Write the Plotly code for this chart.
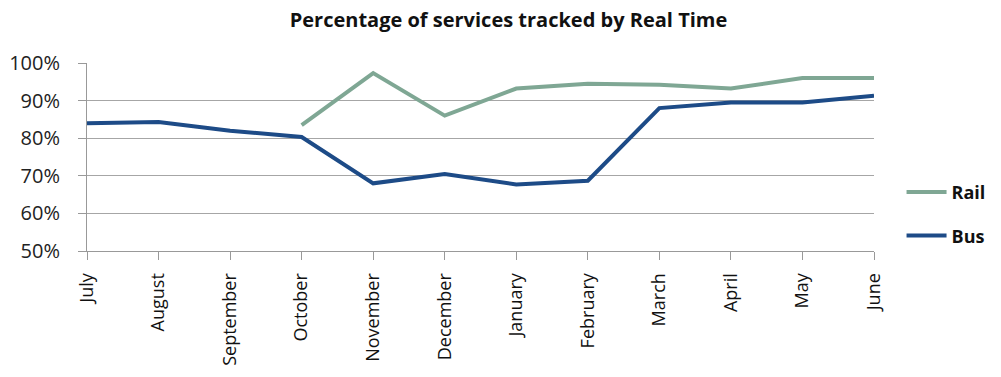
import plotly.graph_objects as go

months = ["July", "August", "September", "October", "November", "December",
          "January", "February", "March", "April", "May", "June"]
rail = [None, None, None, 83.5, 97.3, 86.0, 93.2, 94.5, 94.2, 93.2, 96.0, 96.0]
bus = [84.0, 84.3, 82.0, 80.3, 68.0, 70.5, 67.7, 68.7, 88.0, 89.5, 89.5, 91.3]
y_ticks = [50, 60, 70, 80, 90, 100]
y_labels = [f"{v}%" for v in y_ticks]

FONT = "Open Sans"

fig = go.Figure()
fig.add_trace(go.Scatter(x=months, y=rail, mode="lines", name="Rail",
                         line=dict(color="#7FA794", width=4), legendgroup="rail",
                         cliponaxis=False))
fig.add_trace(go.Scatter(x=months, y=bus, mode="lines", name="Bus",
                         line=dict(color="#1D4B87", width=4), legendgroup="bus",
                         cliponaxis=False))

fig.update_layout(
    width=1001, height=377,
    margin=dict(l=87, r=127, t=63, b=126, autoexpand=False),
    paper_bgcolor="white", plot_bgcolor="white",
    title=dict(text="<b>Percentage of services tracked by Real Time</b>",
               x=0.508, xanchor="center", y=0.947, yanchor="middle",
               font=dict(family=FONT, size=20, color="#111111")),
    font=dict(family=FONT, color="#222222"),
    showlegend=True,
    legend=dict(x=1.035, xanchor="left", y=0.41, yanchor="top",
                font=dict(family=FONT, size=18, color="#111111", weight="bold"),
                tracegroupgap=17, itemwidth=40, bgcolor="rgba(0,0,0,0)"),
)
fig.update_xaxes(type="category", range=[0, 11], showgrid=False,
                 showline=True, linecolor="#999999", linewidth=1,
                 ticks="outside", ticklen=8, tickcolor="#999999",
                 ticklabelstandoff=6, automargin=False,
                 tickangle=-90, tickfont=dict(family=FONT, size=18, color="#111111"))
fig.update_yaxes(range=[50, 100], tickvals=y_ticks, ticktext=y_labels,
                 showgrid=True, gridcolor="#A6A6A6", gridwidth=1,
                 showline=True, linecolor="#999999", linewidth=1,
                 ticks="outside", ticklen=8, tickcolor="#999999",
                 ticklabelstandoff=14, automargin=False,
                 zeroline=False,
                 tickfont=dict(family=FONT, size=20, color="#222222"))

fig.write_html("out.html", config={"displayModeBar": False},
               post_script="document.body.style.margin='0';")
